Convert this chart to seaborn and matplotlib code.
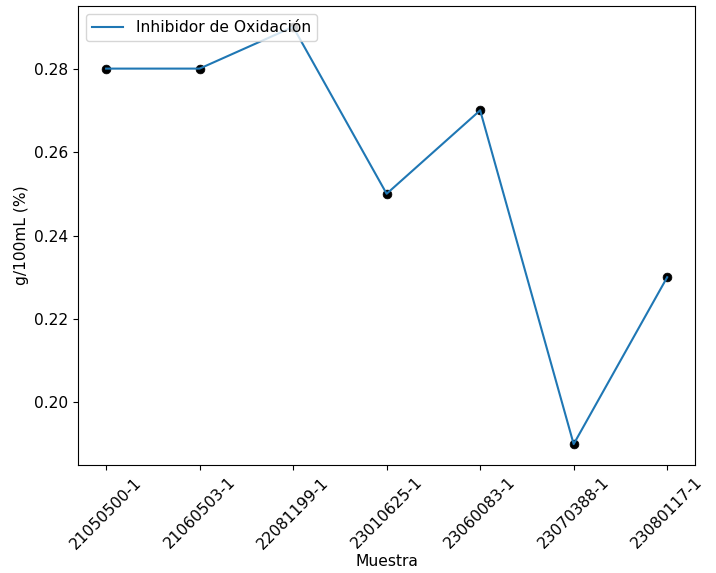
import pandas as pd
import seaborn as sns
import matplotlib.pyplot as plt

muestras = ['21050500-1', '21060503-1', '22081199-1', '23010625-1',
            '23060083-1', '23070388-1', '23080117-1']
valores = [0.28, 0.28, 0.29, 0.25, 0.27, 0.19, 0.23]

df = pd.DataFrame({'Muestra': muestras, 'Valor': valores})

plt.rcParams['font.size'] = 11.2

fig, ax = plt.subplots(figsize=(7.16, 5.73), dpi=100)

sns.lineplot(data=df, x='Muestra', y='Valor', color='#1f77b4',
             label='Inhibidor de Oxidación', ax=ax)
sns.scatterplot(data=df, x='Muestra', y='Valor', color='black',
                s=40, edgecolor='black', legend=False, ax=ax)

ax.set_xlabel('Muestra', labelpad=2)
ax.set_ylabel('g/100mL (%)')
ax.set_yticks([0.20, 0.22, 0.24, 0.26, 0.28])
ax.margins(x=0.05, y=0.05)
plt.setp(ax.get_xticklabels(), rotation=45)
ax.legend(loc='upper left')

plt.subplots_adjust(left=0.109, right=0.971, top=0.9895, bottom=0.1885)
fig.savefig('out.png', dpi=100)
